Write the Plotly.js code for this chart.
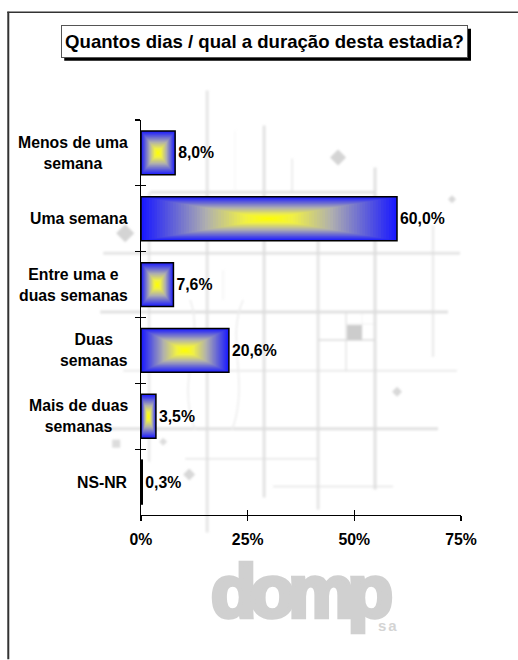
<!DOCTYPE html>
<html><head><meta charset="utf-8">
<script src="https://cdn.plot.ly/plotly-3.0.1.min.js"></script>
<style>html,body{margin:0;padding:0;background:#fff}#c{width:518px;height:660px}</style>
</head><body><div id="c"></div>
<script>
const categories = ["Menos de uma<br>semana","Uma semana","Entre uma e<br>duas semanas","Duas<br>semanas","Mais de duas<br>semanas","NS-NR"];
const values = [8.0,60.0,7.6,20.6,3.5,0.3];
const xTicks = [0,25,50,75];
const titleText = "Quantos dias / qual a duração desta estadia?";
const gradientStops = [[0,25,25,255],[0.5,175,175,175],[0.8,240,240,70],[1,255,255,0]];
const FONT = "'Liberation Sans', Arial, sans-serif";
const SIZE = 15.8, BAR_H = 2/3, LAYERS = 48;

const L=140.8,R=461,T=119.5,B=515.5;
const px = p => (p-L)/(R-L), py = p => (B-p)/(B-T);
function ramp(t){
  for(let i=1;i<gradientStops.length;i++){
    const a=gradientStops[i-1],b=gradientStops[i];
    if(t<=b[0]){const f=(t-a[0])/(b[0]-a[0]);
      return 'rgb('+[1,2,3].map(k=>Math.round(a[k]+(b[k]-a[k])*f)).join(',')+')';}
  }
  return 'rgb(255,255,0)';
}

// blurred watermark of the plan behind the chart
const lines = [
 [207,90,207,533,3,.7],[149,192,149,462,2.5,.6],[264,125,264,498,3,.8],[292,158,292,192,2,.5],
 [318,240,318,510,3,.7],[375,167,375,490,3,.85],[433,225,433,357,2.5,.55],
 [150,192,376,192,3,.8],[103,253,460,253,3,.75],[100,312,448,312,3,.85],[123,371,457,371,2,.6],
 [100,429,438,429,3,.85],[185,459,318,459,1.5,.7],[273,487,393,487,1.5,.7],
 [318,340,375,340,2,.8],[346,312,346,371,1.5,.7],[346,324,375,324,1,.4],[362,312,362,325,1,.3],
 [223,270,223,300,2,.25],[235,130,235,190,1.5,.2]];
const blobs = [[125,233,9,1],[338,157,8,1],[452,199,4,.9],[397,392,5,.9],[163,442,4,.8],[189,475,6,.9]];
let svg = '<svg xmlns="http://www.w3.org/2000/svg" width="518" height="660"><defs><filter id="b" x="-5%" y="-5%" width="110%" height="110%"><feGaussianBlur stdDeviation="1.1"/></filter></defs><g filter="url(#b)" stroke-linecap="butt">';
lines.forEach(l=>{svg+=`<line x1="${l[0]}" y1="${l[1]}" x2="${l[2]}" y2="${l[3]}" stroke="#dcdcdc" stroke-width="${l[4]}" opacity="${l[5]}"/>`;});
blobs.forEach(d=>{svg+=`<path d="M${d[0]-d[2]} ${d[1]}L${d[0]} ${d[1]-d[2]}L${d[0]+d[2]} ${d[1]}L${d[0]} ${d[1]+d[2]}Z" fill="#d4d4d4" opacity="${d[3]}"/>`;});
svg+='<rect x="347" y="325" width="15" height="15" fill="#cccccc"/><rect x="112" y="440" width="8" height="8" fill="#dcdcdc"/>';
svg+='<path d="M190 300C205 340 175 380 195 430M243 300C225 340 250 380 232 430" fill="none" stroke="#ececec" stroke-width="1.5"/>';
svg+='</g></svg>';
const imgSrc = 'data:image/svg+xml;charset=utf-8,'+encodeURIComponent(svg);

const traces = [];
for(let i=0;i<LAYERS;i++){
  const t=i/LAYERS;
  traces.push({type:'bar',orientation:'h',y:categories,x:values.map(v=>v*(1-t)),base:values.map(v=>v*t/2),
    width:categories.map(()=>BAR_H*(1-t)),marker:{color:ramp(t),line:{width:0}},hoverinfo:'skip',showlegend:false});
}
traces.push({type:'bar',orientation:'h',y:categories,x:values,width:categories.map(()=>BAR_H),
  marker:{color:'rgba(0,0,0,0)',line:{color:'#000',width:1.5}},
  text:values.map(v=>v.toFixed(1).replace('.',',')+'%'),textposition:'outside',cliponaxis:false,
  textfont:{family:FONT,size:SIZE,color:'#000',weight:'bold'},hoverinfo:'skip',showlegend:false});
traces.push({type:'scatter',mode:'markers',x:[0],y:[categories[0]],xaxis:'x2',yaxis:'y2',marker:{opacity:0},hoverinfo:'skip',showlegend:false});

const axisLine = {showline:true,linecolor:'#000',linewidth:1.3,tickcolor:'#000',tickwidth:1.3,zeroline:false,showgrid:false,fixedrange:true};
const layout = {
  width:518,height:660,margin:{l:L,r:518-R,t:T,b:660-B},paper_bgcolor:'#fff',plot_bgcolor:'rgba(0,0,0,0)',
  barmode:'overlay',showlegend:false,font:{family:FONT,size:SIZE,color:'#000'},
  xaxis:Object.assign({},axisLine,{range:[0,75],tickmode:'array',tickvals:xTicks,ticktext:xTicks.map(v=>v+'%'),ticks:'outside',ticklen:5,ticklabelstandoff:5,
    tickfont:{family:FONT,size:SIZE,color:'#000',weight:'bold'}}),
  yaxis:Object.assign({},axisLine,{type:'category',categoryorder:'array',categoryarray:categories,range:[5.5,-0.5],ticks:'outside',ticklen:5,tickson:'boundaries',showticklabels:false}),
  xaxis2:Object.assign({},axisLine,{overlaying:'x',anchor:'y2',side:'bottom',range:[0,75],tickmode:'array',tickvals:xTicks,ticks:'inside',ticklen:5,showticklabels:false}),
  yaxis2:Object.assign({},axisLine,{overlaying:'y',anchor:'x2',side:'left',type:'category',categoryorder:'array',categoryarray:categories,range:[5.5,-0.5],ticks:'inside',ticklen:5,tickson:'boundaries',showticklabels:false}),
  images:[{source:imgSrc,xref:'paper',yref:'paper',x:px(0),y:py(0),sizex:518/(R-L),sizey:660/(B-T),xanchor:'left',yanchor:'top',sizing:'stretch',layer:'below'}],
  shapes:[
    {type:'line',xref:'paper',yref:'paper',x0:px(8),x1:px(8),y0:py(11),y1:py(660),line:{color:'#333',width:2}},
    {type:'line',xref:'paper',yref:'paper',x0:px(7),x1:px(518),y0:py(11.5),y1:py(11.5),line:{color:'#333',width:1.5}},
    {type:'rect',xref:'paper',yref:'paper',x0:px(64),x1:px(471),y0:py(28),y1:py(60),fillcolor:'#000',line:{width:0}}
  ],
  annotations:[
    {xref:'paper',yref:'paper',x:px(264.5),y:py(41),xanchor:'center',yanchor:'middle',width:405,height:31,showarrow:false,
     text:'<b>'+titleText+'</b>',bgcolor:'#fff',bordercolor:'#555',borderwidth:1,borderpad:0,font:{family:FONT,size:18.6,color:'#000'}},
    {xref:'paper',yref:'paper',x:px(301),y:py(592),xanchor:'center',yanchor:'middle',showarrow:false,
     text:'<span style="letter-spacing:-6.5px;stroke:#d0d0d0;stroke-width:4.5px"><b>domp</b></span>',font:{family:FONT,size:74,color:'#d0d0d0'}},
    {xref:'paper',yref:'paper',x:px(388),y:py(626),xanchor:'center',yanchor:'middle',showarrow:false,
     text:'<span style="letter-spacing:2px"><b>sa</b></span>',font:{family:FONT,size:15,color:'#d4d4d4'}}
  ].concat(categories.map(c=>({xref:'paper',yref:'y',x:px(130),y:c,xanchor:'right',yanchor:'middle',align:'center',showarrow:false,
     text:'<b>'+c+'</b>',font:{family:FONT,size:SIZE,color:'#000'}})))
};
Plotly.newPlot('c',traces,layout,{displayModeBar:false,staticPlot:true});
</script></body></html>
